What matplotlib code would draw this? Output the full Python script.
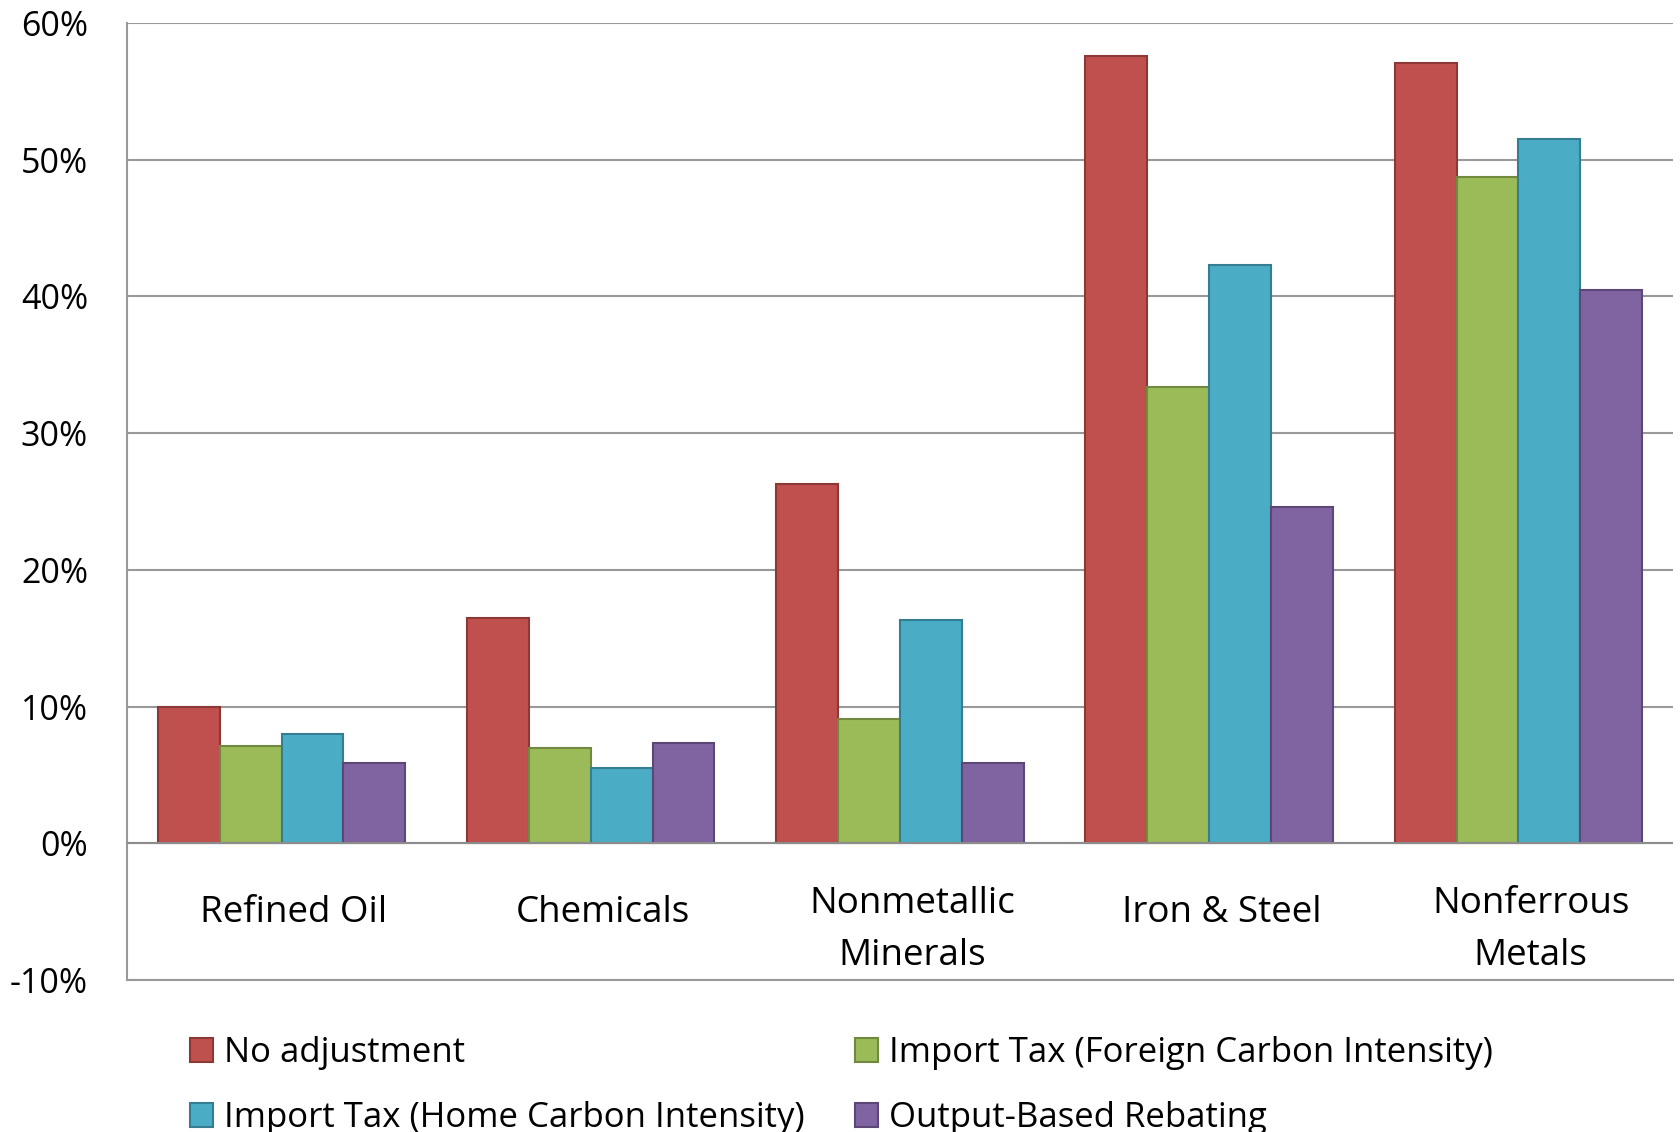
import matplotlib.pyplot as plt
import numpy as np
from matplotlib.patches import Patch

plt.rcParams['font.family'] = ['Open Sans', 'DejaVu Sans']

# Data (percent)
sectors = ['Refined Oil', 'Chemicals', 'Nonmetallic\nMinerals', 'Iron & Steel', 'Nonferrous\nMetals']
no_adjustment = [10.0, 16.5, 26.3, 57.6, 57.1]
import_tax_foreign = [7.1, 7.0, 9.1, 33.4, 48.7]
import_tax_home = [8.0, 5.5, 16.3, 42.3, 51.5]
output_rebating = [5.9, 7.3, 5.9, 24.6, 40.5]

series_names = ['No adjustment', 'Import Tax (Foreign Carbon Intensity)',
                'Import Tax (Home Carbon Intensity)', 'Output-Based Rebating']
series_values = [no_adjustment, import_tax_foreign, import_tax_home, output_rebating]
fill_colors = ['#C0504D', '#9BBB59', '#4BACC6', '#8064A2']
edge_colors = ['#8C3836', '#71893F', '#357D91', '#5C4776']

y_ticks = [-10, 0, 10, 20, 30, 40, 50, 60]

fig = plt.figure(figsize=(16.8, 11.32), dpi=100)
ax = fig.add_axes([0.0756, 0.1343, 0.9202, 0.8454])

x = np.arange(len(sectors))
bar_w = 0.2
for j, (vals, fc, ec) in enumerate(zip(series_values, fill_colors, edge_colors)):
    ax.bar(x + (j - 1.5) * bar_w, vals, width=bar_w, color=fc,
           edgecolor=ec, linewidth=1.5, zorder=3)

ax.set_xlim(-0.5, len(sectors) - 0.5)
ax.set_ylim(-10, 60)
ax.set_yticks(y_ticks)
ax.set_yticklabels([f'{t}%' for t in y_ticks])
ax.tick_params(axis='y', length=0, pad=28, labelsize=24.5)
ax.set_xticks([])
ax.grid(axis='y', color='#999999', linewidth=1.5, zorder=0)
ax.axhline(0, color='#8C8C8C', linewidth=1.5, zorder=4)

for s in ['top', 'right']:
    ax.spines[s].set_visible(False)
for s in ['left', 'bottom']:
    ax.spines[s].set_color('#999999')
    ax.spines[s].set_linewidth(1.5)

# category labels sit inside the plot, below the zero line
for i, name in enumerate(sectors):
    nlines = name.count('\n') + 1
    ax.text(i + 0.04, -5.1 - 1.25 * (nlines - 1), name, ha='center', va='center',
            fontsize=26.5, linespacing=1.6)

handles = [Patch(facecolor=fc, edgecolor=ec, linewidth=1.5)
           for fc, ec in zip(fill_colors, edge_colors)]
order = [0, 2, 1, 3]
fig.legend([handles[k] for k in order], [series_names[k] for k in order],
           ncol=2, loc='upper left', bbox_to_anchor=(0.113, 0.085),
           frameon=False, fontsize=25, handlelength=0.68, handleheight=0.68,
           handletextpad=0.3, columnspacing=1.45, labelspacing=0.9,
           borderpad=0, borderaxespad=0)

fig.savefig('out.png', dpi=100)
